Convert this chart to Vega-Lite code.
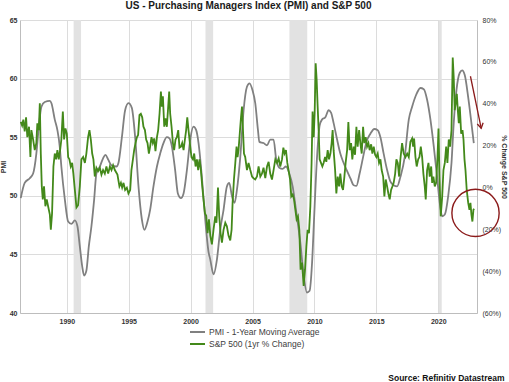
{
  "$schema": "https://vega.github.io/schema/vega-lite/v6.json",
  "width": 457,
  "height": 293,
  "autosize": {"type": "none"},
  "padding": {"left": 20, "top": 20, "right": 32, "bottom": 69},
  "background": "white",
  "title": {"text": "US - Purchasing Managers Index (PMI) and S&P 500", "fontSize": 10, "fontWeight": "bold", "color": "#1a1a1a", "anchor": "middle", "offset": 5},
  "config": {
    "font": "Liberation Sans",
    "view": {"stroke": null},
    "axis": {"ticks": false, "labelColor": "#333333", "labelFontSize": 7, "titleColor": "#333333", "titleFontSize": 7, "titleFontWeight": "bold", "gridColor": "#dcdcdc", "gridWidth": 1, "domainColor": "#bdbdbd", "domainWidth": 1},
    "axisX": {"labelFontWeight": "bold", "labelPadding": 4, "grid": true, "titleAnchor": "end", "titleAlign": "right", "titleFontSize": 8.5, "titleColor": "#111111", "titleX": 484, "titleY": 67, "titleBaseline": "alphabetic"},
    "legend": {"labelFontSize": 8.5, "labelColor": "#404040", "symbolType": "M-2.5,0H2.5", "symbolSize": 64, "symbolStrokeWidth": 2, "labelOffset": 9, "rowPadding": 2, "padding": 0, "clipHeight": 10}
  },
  "datasets": {
    "rec": [
      {"a": 1990.55, "b": 1991.15},
      {"a": 2001.2, "b": 2001.82},
      {"a": 2007.98, "b": 2009.42},
      {"a": 2020.05, "b": 2020.28}
    ],
    "pmi": [
      {"t":1986.28,"v":49.8},{"t":1986.6,"v":51.1},{"t":1987.01,"v":51.5},{"t":1987.28,"v":51.9},{"t":1987.54,"v":53.6},{"t":1987.74,"v":55.9},{"t":1987.95,"v":57.6},{"t":1988.22,"v":58.0},{"t":1988.63,"v":58.1},{"t":1988.76,"v":57.9},
      {"t":1989.03,"v":56.5},{"t":1989.24,"v":55.6},{"t":1989.43,"v":54.2},{"t":1989.56,"v":52.5},{"t":1989.84,"v":49.7},{"t":1990.11,"v":47.8},{"t":1990.37,"v":47.6},{"t":1990.65,"v":47.9},{"t":1990.86,"v":47.4},{"t":1991.05,"v":45.7},
      {"t":1991.24,"v":44.0},{"t":1991.4,"v":43.2},{"t":1991.58,"v":43.6},{"t":1991.78,"v":45.7},{"t":1991.99,"v":47.4},{"t":1992.21,"v":49.7},{"t":1992.39,"v":51.9},{"t":1992.67,"v":52.5},{"t":1992.93,"v":53.2},{"t":1993.12,"v":53.5},
      {"t":1993.34,"v":53.1},{"t":1993.61,"v":52.6},{"t":1994.01,"v":52.5},{"t":1994.17,"v":52.8},{"t":1994.45,"v":55.0},{"t":1994.71,"v":57.3},{"t":1994.98,"v":57.9},{"t":1995.25,"v":57.5},{"t":1995.52,"v":55.0},{"t":1995.79,"v":50.8},
      {"t":1996.06,"v":48.0},{"t":1996.27,"v":47.1},{"t":1996.52,"v":47.8},{"t":1996.73,"v":48.8},{"t":1997.0,"v":50.8},{"t":1997.28,"v":52.5},{"t":1997.54,"v":53.6},{"t":1997.81,"v":54.5},{"t":1998.08,"v":55.0},{"t":1998.29,"v":54.9},
      {"t":1998.49,"v":54.2},{"t":1998.75,"v":52.2},{"t":1998.97,"v":50.2},{"t":1999.22,"v":49.8},{"t":1999.43,"v":50.2},{"t":1999.7,"v":52.2},{"t":1999.97,"v":54.8},{"t":2000.23,"v":55.9},{"t":2000.45,"v":55.6},{"t":2000.64,"v":54.5},
      {"t":2000.91,"v":51.6},{"t":2001.18,"v":48.0},{"t":2001.45,"v":45.2},{"t":2001.58,"v":44.6},{"t":2001.85,"v":43.3},{"t":2002.13,"v":44.6},{"t":2002.39,"v":47.1},{"t":2002.66,"v":48.8},{"t":2002.93,"v":50.8},{"t":2003.12,"v":51.1},
      {"t":2003.34,"v":49.95},{"t":2003.55,"v":49.4},{"t":2003.74,"v":50.5},{"t":2004.01,"v":53.3},{"t":2004.28,"v":57.3},{"t":2004.55,"v":59.3},{"t":2004.76,"v":59.6},{"t":2005.0,"v":59.0},{"t":2005.22,"v":57.9},{"t":2005.44,"v":55.6},
      {"t":2005.55,"v":54.6},{"t":2005.89,"v":54.5},{"t":2006.17,"v":54.3},{"t":2006.43,"v":54.8},{"t":2006.7,"v":54.8},{"t":2006.9,"v":53.2},{"t":2007.16,"v":52.4},{"t":2007.43,"v":52.3},{"t":2007.7,"v":52.5},{"t":2007.97,"v":51.9},
      {"t":2008.24,"v":50.8},{"t":2008.51,"v":48.8},{"t":2008.86,"v":46.0},{"t":2009.13,"v":43.2},{"t":2009.4,"v":41.75},{"t":2009.61,"v":41.9},{"t":2009.81,"v":44.3},{"t":2009.99,"v":48.5},{"t":2010.21,"v":53.3},{"t":2010.42,"v":56.0},
      {"t":2010.61,"v":56.5},{"t":2010.88,"v":56.7},{"t":2011.15,"v":57.3},{"t":2011.34,"v":57.1},{"t":2011.55,"v":56.2},{"t":2011.83,"v":54.8},{"t":2012.09,"v":53.6},{"t":2012.36,"v":52.8},{"t":2012.64,"v":52.1},{"t":2012.9,"v":51.5},
      {"t":2013.17,"v":50.9},{"t":2013.39,"v":50.85},{"t":2013.65,"v":51.9},{"t":2013.93,"v":53.3},{"t":2014.2,"v":54.6},{"t":2014.52,"v":55.3},{"t":2014.84,"v":55.7},{"t":2015.11,"v":55.6},{"t":2015.33,"v":55.0},{"t":2015.59,"v":53.6},
      {"t":2015.87,"v":52.2},{"t":2016.14,"v":51.2},{"t":2016.4,"v":50.9},{"t":2016.68,"v":50.8},{"t":2016.94,"v":51.6},{"t":2017.29,"v":53.3},{"t":2017.62,"v":56.5},{"t":2017.89,"v":57.6},{"t":2018.21,"v":58.6},{"t":2018.56,"v":59.2},
      {"t":2018.83,"v":59.1},{"t":2019.1,"v":58.2},{"t":2019.37,"v":56.5},{"t":2019.64,"v":54.2},{"t":2019.91,"v":51.6},{"t":2020.12,"v":49.4},{"t":2020.32,"v":48.25},{"t":2020.53,"v":48.4},{"t":2020.8,"v":49.95},{"t":2021.07,"v":52.8},
      {"t":2021.25,"v":56.2},{"t":2021.47,"v":59.0},{"t":2021.74,"v":60.5},{"t":2021.93,"v":60.7},{"t":2022.14,"v":60.3},{"t":2022.42,"v":58.4},{"t":2022.68,"v":56.2},{"t":2022.87,"v":54.5}
    ],
    "spx": [
      {"t":1986.28,"v":31.3},{"t":1986.39,"v":29.6},{"t":1986.49,"v":32.4},{"t":1986.6,"v":26.8},{"t":1986.71,"v":33.5},{"t":1986.81,"v":24.0},{"t":1986.95,"v":29.0},{"t":1987.06,"v":14.5},{"t":1987.14,"v":27.4},{"t":1987.28,"v":22.9},
      {"t":1987.41,"v":17.8},{"t":1987.54,"v":21.2},{"t":1987.62,"v":30.7},{"t":1987.74,"v":27.4},{"t":1987.82,"v":40.2},{"t":1987.9,"v":16.2},{"t":1987.98,"v":0.5},{"t":1988.06,"v":-5.7},{"t":1988.16,"v":0.5},{"t":1988.27,"v":-9.0},
      {"t":1988.38,"v":-5.7},{"t":1988.49,"v":-9.0},{"t":1988.63,"v":-13.0},{"t":1988.71,"v":-20.2},{"t":1988.81,"v":-12.4},{"t":1988.92,"v":10.0},{"t":1989.03,"v":16.2},{"t":1989.14,"v":13.4},{"t":1989.24,"v":17.8},{"t":1989.35,"v":13.4},
      {"t":1989.46,"v":17.8},{"t":1989.56,"v":22.9},{"t":1989.68,"v":36.3},{"t":1989.78,"v":22.9},{"t":1989.89,"v":28.2},{"t":1990.0,"v":25.7},{"t":1990.11,"v":14.5},{"t":1990.21,"v":13.4},{"t":1990.32,"v":10.0},{"t":1990.43,"v":11.7},
      {"t":1990.53,"v":6.6},{"t":1990.65,"v":-1.2},{"t":1990.78,"v":-9.6},{"t":1990.91,"v":-8.5},{"t":1991.05,"v":0.5},{"t":1991.18,"v":13.4},{"t":1991.32,"v":14.5},{"t":1991.46,"v":11.7},{"t":1991.58,"v":16.2},{"t":1991.72,"v":24.0},
      {"t":1991.83,"v":27.4},{"t":1991.94,"v":22.9},{"t":1992.05,"v":16.2},{"t":1992.15,"v":13.4},{"t":1992.26,"v":5.2},{"t":1992.39,"v":9.4},{"t":1992.53,"v":7.8},{"t":1992.67,"v":9.4},{"t":1992.8,"v":6.1},{"t":1992.93,"v":8.3},
      {"t":1993.07,"v":6.6},{"t":1993.2,"v":10.0},{"t":1993.34,"v":6.6},{"t":1993.48,"v":10.0},{"t":1993.61,"v":8.3},{"t":1993.74,"v":10.6},{"t":1993.88,"v":8.3},{"t":1994.09,"v":6.1},{"t":1994.25,"v":0.5},{"t":1994.37,"v":2.2},
      {"t":1994.47,"v":-0.1},{"t":1994.58,"v":2.2},{"t":1994.71,"v":-1.2},{"t":1994.85,"v":-0.1},{"t":1994.98,"v":-2.9},{"t":1995.12,"v":-1.2},{"t":1995.22,"v":8.3},{"t":1995.34,"v":13.4},{"t":1995.44,"v":17.8},{"t":1995.55,"v":21.2},
      {"t":1995.66,"v":24.0},{"t":1995.76,"v":25.1},{"t":1995.87,"v":34.6},{"t":1995.98,"v":35.2},{"t":1996.09,"v":33.5},{"t":1996.19,"v":29.0},{"t":1996.31,"v":27.4},{"t":1996.41,"v":22.9},{"t":1996.52,"v":21.2},{"t":1996.63,"v":16.2},
      {"t":1996.73,"v":19.5},{"t":1996.84,"v":24.0},{"t":1996.95,"v":21.2},{"t":1997.06,"v":23.4},{"t":1997.16,"v":17.3},{"t":1997.28,"v":24.0},{"t":1997.38,"v":27.4},{"t":1997.49,"v":35.2},{"t":1997.6,"v":45.8},{"t":1997.68,"v":38.6},
      {"t":1997.76,"v":43.6},{"t":1997.87,"v":29.0},{"t":1997.97,"v":33.0},{"t":1998.08,"v":29.0},{"t":1998.19,"v":38.6},{"t":1998.27,"v":45.8},{"t":1998.35,"v":35.2},{"t":1998.46,"v":29.0},{"t":1998.57,"v":21.2},{"t":1998.67,"v":17.8},
      {"t":1998.78,"v":22.9},{"t":1998.89,"v":24.0},{"t":1999.0,"v":27.4},{"t":1999.1,"v":19.0},{"t":1999.22,"v":19.5},{"t":1999.32,"v":21.2},{"t":1999.43,"v":17.8},{"t":1999.54,"v":22.9},{"t":1999.64,"v":27.4},{"t":1999.73,"v":33.5},
      {"t":1999.83,"v":27.4},{"t":1999.97,"v":19.5},{"t":2000.07,"v":14.5},{"t":2000.19,"v":13.4},{"t":2000.29,"v":16.2},{"t":2000.4,"v":10.0},{"t":2000.51,"v":13.4},{"t":2000.61,"v":8.3},{"t":2000.72,"v":13.4},{"t":2000.83,"v":8.3},
      {"t":2000.94,"v":0.5},{"t":2001.04,"v":-5.7},{"t":2001.16,"v":-12.4},{"t":2001.26,"v":-13.5},{"t":2001.37,"v":-21.9},{"t":2001.48,"v":-15.2},{"t":2001.59,"v":-23.0},{"t":2001.72,"v":-27.2},{"t":2001.85,"v":-20.2},{"t":2001.99,"v":-13.8},
      {"t":2002.09,"v":-16.9},{"t":2002.21,"v":-0.1},{"t":2002.31,"v":-13.8},{"t":2002.42,"v":-21.9},{"t":2002.53,"v":-26.4},{"t":2002.66,"v":-20.2},{"t":2002.8,"v":-16.9},{"t":2002.93,"v":-18.6},{"t":2003.06,"v":-23.0},{"t":2003.2,"v":-25.3},
      {"t":2003.31,"v":-20.2},{"t":2003.39,"v":-7.4},{"t":2003.5,"v":3.8},{"t":2003.61,"v":11.7},{"t":2003.71,"v":19.5},{"t":2003.79,"v":14.5},{"t":2003.87,"v":17.8},{"t":2003.99,"v":27.4},{"t":2004.07,"v":33.5},{"t":2004.15,"v":38.6},
      {"t":2004.23,"v":27.4},{"t":2004.31,"v":16.2},{"t":2004.41,"v":14.5},{"t":2004.55,"v":8.3},{"t":2004.68,"v":11.7},{"t":2004.82,"v":8.3},{"t":2004.96,"v":5.2},{"t":2005.08,"v":4.4},{"t":2005.22,"v":3.8},{"t":2005.36,"v":5.2},
      {"t":2005.49,"v":10.0},{"t":2005.63,"v":5.2},{"t":2005.76,"v":6.6},{"t":2005.89,"v":9.4},{"t":2006.03,"v":4.4},{"t":2006.17,"v":10.0},{"t":2006.3,"v":12.2},{"t":2006.43,"v":6.6},{"t":2006.57,"v":3.8},{"t":2006.7,"v":8.3},
      {"t":2006.84,"v":13.4},{"t":2006.98,"v":11.7},{"t":2007.11,"v":13.9},{"t":2007.24,"v":10.0},{"t":2007.38,"v":13.4},{"t":2007.49,"v":19.0},{"t":2007.59,"v":16.2},{"t":2007.7,"v":17.8},{"t":2007.81,"v":11.7},{"t":2007.91,"v":8.3},
      {"t":2008.03,"v":3.8},{"t":2008.13,"v":-4.3},{"t":2008.24,"v":-3.4},{"t":2008.35,"v":-5.7},{"t":2008.46,"v":-10.7},{"t":2008.56,"v":-15.2},{"t":2008.67,"v":-13.8},{"t":2008.78,"v":-20.2},{"t":2008.88,"v":-39.3},{"t":2009.0,"v":-35.9},
      {"t":2009.13,"v":-47.1},{"t":2009.24,"v":-39.3},{"t":2009.35,"v":-28.1},{"t":2009.45,"v":-20.2},{"t":2009.56,"v":-21.9},{"t":2009.67,"v":-9.0},{"t":2009.77,"v":11.7},{"t":2009.85,"v":36.3},{"t":2009.94,"v":24.0},{"t":2010.02,"v":35.8},
      {"t":2010.1,"v":59.3},{"t":2010.18,"v":51.4},{"t":2010.26,"v":38.6},{"t":2010.34,"v":27.4},{"t":2010.42,"v":13.4},{"t":2010.53,"v":11.7},{"t":2010.64,"v":10.0},{"t":2010.74,"v":11.7},{"t":2010.86,"v":14.5},{"t":2010.96,"v":12.2},
      {"t":2011.07,"v":17.8},{"t":2011.18,"v":13.4},{"t":2011.29,"v":16.2},{"t":2011.39,"v":21.2},{"t":2011.47,"v":27.4},{"t":2011.55,"v":17.8},{"t":2011.67,"v":8.3},{"t":2011.77,"v":-2.9},{"t":2011.88,"v":5.2},{"t":2011.99,"v":0.5},
      {"t":2012.09,"v":6.6},{"t":2012.2,"v":0.5},{"t":2012.31,"v":-1.2},{"t":2012.42,"v":5.2},{"t":2012.52,"v":11.7},{"t":2012.64,"v":17.8},{"t":2012.74,"v":31.3},{"t":2012.85,"v":17.8},{"t":2012.96,"v":21.2},{"t":2013.06,"v":13.4},
      {"t":2013.17,"v":19.5},{"t":2013.28,"v":15.6},{"t":2013.39,"v":29.0},{"t":2013.49,"v":19.5},{"t":2013.61,"v":27.4},{"t":2013.71,"v":21.2},{"t":2013.82,"v":16.2},{"t":2013.93,"v":29.0},{"t":2014.03,"v":21.2},{"t":2014.14,"v":24.0},
      {"t":2014.25,"v":19.5},{"t":2014.36,"v":21.2},{"t":2014.46,"v":17.8},{"t":2014.58,"v":20.6},{"t":2014.68,"v":16.2},{"t":2014.79,"v":19.5},{"t":2014.9,"v":15.6},{"t":2015.0,"v":14.5},{"t":2015.11,"v":16.2},{"t":2015.22,"v":11.7},
      {"t":2015.33,"v":13.4},{"t":2015.43,"v":8.3},{"t":2015.55,"v":5.2},{"t":2015.65,"v":-4.3},{"t":2015.76,"v":3.8},{"t":2015.87,"v":0.5},{"t":2015.97,"v":-2.9},{"t":2016.08,"v":-5.7},{"t":2016.19,"v":-1.2},{"t":2016.3,"v":0.5},
      {"t":2016.4,"v":2.2},{"t":2016.52,"v":6.6},{"t":2016.62,"v":13.4},{"t":2016.73,"v":11.7},{"t":2016.84,"v":5.2},{"t":2016.94,"v":13.4},{"t":2017.08,"v":21.2},{"t":2017.21,"v":16.2},{"t":2017.35,"v":14.5},{"t":2017.49,"v":16.2},
      {"t":2017.62,"v":14.5},{"t":2017.75,"v":21.8},{"t":2017.89,"v":23.4},{"t":2017.97,"v":19.5},{"t":2018.05,"v":23.4},{"t":2018.16,"v":14.5},{"t":2018.26,"v":10.0},{"t":2018.38,"v":13.4},{"t":2018.48,"v":14.5},{"t":2018.59,"v":19.5},
      {"t":2018.7,"v":14.5},{"t":2018.8,"v":6.6},{"t":2018.91,"v":0.5},{"t":2018.99,"v":-5.7},{"t":2019.1,"v":8.3},{"t":2019.21,"v":11.7},{"t":2019.31,"v":5.2},{"t":2019.43,"v":10.0},{"t":2019.51,"v":2.2},{"t":2019.61,"v":5.2},
      {"t":2019.72,"v":0.5},{"t":2019.83,"v":2.2},{"t":2019.94,"v":14.5},{"t":2020.02,"v":28.2},{"t":2020.1,"v":5.2},{"t":2020.2,"v":-13.8},{"t":2020.32,"v":-4.3},{"t":2020.42,"v":8.3},{"t":2020.53,"v":11.7},{"t":2020.64,"v":19.5},
      {"t":2020.74,"v":11.7},{"t":2020.85,"v":22.9},{"t":2020.96,"v":19.5},{"t":2021.07,"v":27.4},{"t":2021.17,"v":62.1},{"t":2021.25,"v":52.6},{"t":2021.33,"v":36.9},{"t":2021.41,"v":40.2},{"t":2021.5,"v":44.7},{"t":2021.58,"v":36.9},
      {"t":2021.66,"v":30.7},{"t":2021.74,"v":38.6},{"t":2021.85,"v":25.7},{"t":2021.96,"v":27.4},{"t":2022.04,"v":22.9},{"t":2022.12,"v":13.4},{"t":2022.2,"v":8.3},{"t":2022.3,"v":-1.2},{"t":2022.42,"v":-7.4},{"t":2022.52,"v":-10.7},
      {"t":2022.6,"v":-7.4},{"t":2022.68,"v":-13.0},{"t":2022.76,"v":-16.3},{"t":2022.84,"v":-10.7},{"t":2022.9,"v":-10.2}
    ],
    "ring": [{"t": 2023.01, "v": 48.54}],
    "arrow": [{"t": 2022.6, "v": 60.2, "t2": 2023.47, "v2": 55.76}]
  },
  "layer": [
    {
      "data": {"name": "rec"},
      "mark": {"type": "rect", "color": "#e2e2e2"},
      "encoding": {
        "x": {"field": "a", "type": "quantitative", "scale": {"domain": [1986.22, 2023.13], "nice": false, "zero": false}, "title": "Source: Refinitiv Datastream", "axis": {"format": "d", "values": [1990, 1995, 2000, 2005, 2010, 2015, 2020]}},
        "x2": {"field": "b"}
      }
    },
    {
      "data": {"name": "pmi"},
      "mark": {"type": "line", "color": "#808080", "strokeWidth": 1.8, "interpolate": "monotone"},
      "encoding": {
        "x": {"field": "t", "type": "quantitative", "scale": {"domain": [1986.22, 2023.13], "nice": false, "zero": false}, "title": "Source: Refinitiv Datastream", "axis": {"format": "d", "values": [1990, 1995, 2000, 2005, 2010, 2015, 2020]}},
        "y": {"field": "v", "type": "quantitative", "scale": {"domain": [40, 65], "nice": false, "zero": false}, "axis": {"values": [40, 45, 50, 55, 60, 65], "title": "PMI", "labelFontWeight": "bold", "labelPadding": 3, "titlePadding": 3, "grid": true}},
        "color": {"datum": "PMI - 1-Year Moving Average", "type": "nominal", "scale": {"domain": ["PMI - 1-Year Moving Average", "S&P 500 (1yr % Change)"], "range": ["#808080", "#43891a"]}, "legend": {"title": null, "orient": "none", "legendX": 170, "legendY": 307, "direction": "vertical", "rowPadding": 2, "clipHeight": 10}}
      }
    },
    {
      "data": {"name": "spx"},
      "mark": {"type": "line", "color": "#43891a", "strokeWidth": 1.8},
      "encoding": {
        "x": {"field": "t", "type": "quantitative", "scale": {"domain": [1986.22, 2023.13], "nice": false, "zero": false}, "title": "Source: Refinitiv Datastream", "axis": {"format": "d", "values": [1990, 1995, 2000, 2005, 2010, 2015, 2020]}},
        "y": {"field": "v", "type": "quantitative", "scale": {"domain": [-60, 80], "nice": false, "zero": false}, "axis": {"orient": "right", "values": [-60, -40, -20, 0, 20, 40, 60, 80], "labelExpr": "datum.value < 0 ? '(' + abs(datum.value) + '%)' : datum.value + '%'", "title": "% Change S&P 500", "grid": false, "labelPadding": 5, "titlePadding": 0, "labelFontSize": 7}},
        "color": {"datum": "S&P 500 (1yr % Change)", "type": "nominal"}
      }
    },
    {
      "data": {"name": "ring"},
      "mark": {"type": "point", "shape": "circle", "filled": false, "size": 2234, "stroke": "#8b1a1a", "strokeWidth": 1.4, "opacity": 1},
      "encoding": {
        "x": {"field": "t", "type": "quantitative", "scale": {"domain": [1986.22, 2023.13], "nice": false, "zero": false}, "title": "Source: Refinitiv Datastream", "axis": {"format": "d", "values": [1990, 1995, 2000, 2005, 2010, 2015, 2020]}},
        "y": {"field": "v", "type": "quantitative", "scale": {"domain": [40, 65], "nice": false, "zero": false}, "axis": null}
      }
    },
    {
      "data": {"name": "arrow"},
      "mark": {"type": "rule", "color": "#8b1a1a", "strokeWidth": 1.3},
      "encoding": {
        "x": {"field": "t", "type": "quantitative", "scale": {"domain": [1986.22, 2023.13], "nice": false, "zero": false}, "title": "Source: Refinitiv Datastream", "axis": {"format": "d", "values": [1990, 1995, 2000, 2005, 2010, 2015, 2020]}},
        "x2": {"field": "t2"},
        "y": {"field": "v", "type": "quantitative", "scale": {"domain": [40, 65], "nice": false, "zero": false}, "axis": null},
        "y2": {"field": "v2"}
      }
    },
    {
      "data": {"name": "arrow"},
      "mark": {"type": "point", "shape": "M-0.6,-1L0,0L0.6,-1", "filled": false, "size": 100, "stroke": "#8b1a1a", "strokeWidth": 1.3, "angle": -11.6, "opacity": 1},
      "encoding": {
        "x": {"field": "t2", "type": "quantitative", "scale": {"domain": [1986.22, 2023.13], "nice": false, "zero": false}, "title": "Source: Refinitiv Datastream", "axis": {"format": "d", "values": [1990, 1995, 2000, 2005, 2010, 2015, 2020]}},
        "y": {"field": "v2", "type": "quantitative", "scale": {"domain": [40, 65], "nice": false, "zero": false}, "axis": null}
      }
    }
  ],
  "resolve": {"scale": {"y": "independent"}}
}
